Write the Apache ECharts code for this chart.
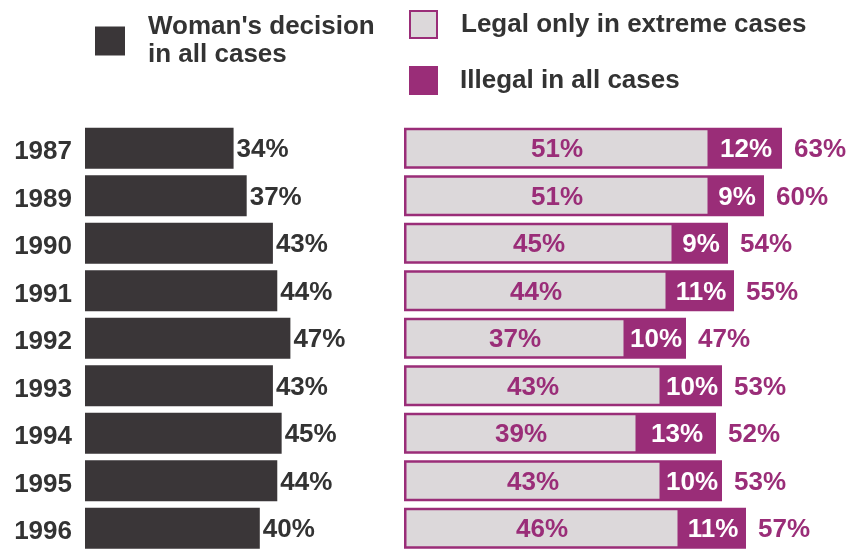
<!DOCTYPE html>
<html>
<head>
<meta charset="utf-8">
<script src="https://cdn.jsdelivr.net/npm/echarts@6/dist/echarts.min.js"></script>
<style>
html,body{margin:0;padding:0;background:#fff;}
#chart{width:848px;height:552px;}
</style>
</head>
<body>
<div id="chart"></div>
<script>
var years = ['1987','1989','1990','1991','1992','1993','1994','1995','1996'];
var womanDecision = [34, 37, 43, 44, 47, 43, 45, 44, 40];
var legalExtreme = [51, 51, 45, 44, 37, 43, 39, 43, 46];
var illegalAll = [12, 9, 9, 11, 10, 10, 13, 10, 11];
var totals = [63, 60, 54, 55, 47, 53, 52, 53, 57];

var dark = '#3a3638';
var purple = '#9a2d78';
var light = '#dcd8da';
var font = 'Liberation Sans, Arial, sans-serif';

var chart = echarts.init(document.getElementById('chart'));

var lbl = {fontFamily: font, fontSize: 26, fontWeight: 'bold', offset: [0, 2]};

var option = {
	backgroundColor: '#fff',
	animation: false,
	legend: [
		{
			data: ['Woman\'s decision in all cases'],
			left: 90, top: 8,
			icon: 'rect', itemWidth: 30, itemHeight: 29,
			selectedMode: false,
			formatter: function(){ return 'Woman\'s decision\nin all cases'; },
			textStyle: {fontFamily: font, fontSize: 26, fontWeight: 'bold', color: '#333', lineHeight: 28, padding: [0,0,0,18]}
		},
		{
			data: ['Legal only in extreme cases'],
			left: 404, top: 5,
			icon: 'rect', itemWidth: 27, itemHeight: 27,
			selectedMode: false,
			textStyle: {fontFamily: font, fontSize: 26, fontWeight: 'bold', color: '#333', padding: [0,0,0,19]}
		},
		{
			data: ['Illegal in all cases'],
			left: 404, top: 61,
			icon: 'rect', itemWidth: 29, itemHeight: 29,
			selectedMode: false,
			textStyle: {fontFamily: font, fontSize: 26, fontWeight: 'bold', color: '#333', padding: [0,0,0,17]}
		}
	],
	grid: [
		{left: 85, top: 124.5, width: 218.5, height: 430},
		{left: 404, top: 124.5, width: 420, height: 430}
	],
	xAxis: [
		{gridIndex: 0, type: 'value', min: 0, max: 50, show: false},
		{gridIndex: 1, type: 'value', min: 0, max: 70, show: false}
	],
	yAxis: [
		{
			gridIndex: 0, type: 'category', data: years, inverse: true,
			axisLine: {show: false}, axisTick: {show: false},
			axisLabel: {
				margin: 13, formatter: '{y|{value}}',
				rich: {y: {color: '#333', fontFamily: font, fontSize: 26, fontWeight: 'bold', padding: [8,0,0,0]}}
			}
		},
		{
			gridIndex: 1, type: 'category', data: years, inverse: true, show: false
		}
	],
	series: [
		{
			name: 'Woman\'s decision in all cases',
			type: 'bar', xAxisIndex: 0, yAxisIndex: 0,
			data: womanDecision, barWidth: 41,
			itemStyle: {color: dark},
			label: Object.assign({show: true, position: 'right', distance: 3, color: '#333', formatter: '{c}%'}, lbl)
		},
		{
			name: 'Legal only in extreme cases',
			type: 'bar', xAxisIndex: 1, yAxisIndex: 1, stack: 'r',
			data: legalExtreme, barWidth: 41,
			itemStyle: {color: light, borderColor: purple, borderWidth: 2.5},
			label: Object.assign({show: true, position: 'inside', color: purple, formatter: '{c}%'}, lbl)
		},
		{
			name: 'Illegal in all cases',
			type: 'bar', xAxisIndex: 1, yAxisIndex: 1, stack: 'r',
			data: illegalAll, barWidth: 41,
			itemStyle: {color: purple},
			label: Object.assign({show: true, position: 'inside', color: '#fff', formatter: '{c}%'}, lbl)
		},
		{
			name: 'total',
			type: 'bar', xAxisIndex: 1, yAxisIndex: 1, stack: 'r',
			data: totals.map(function(){ return 0; }), barWidth: 41,
			itemStyle: {color: 'transparent'},
			label: Object.assign({show: true, position: 'right', distance: 12, color: purple,
				formatter: function(p){ return totals[p.dataIndex] + '%'; }}, lbl)
		}
	]
};

chart.setOption(option);
</script>
</body>
</html>
